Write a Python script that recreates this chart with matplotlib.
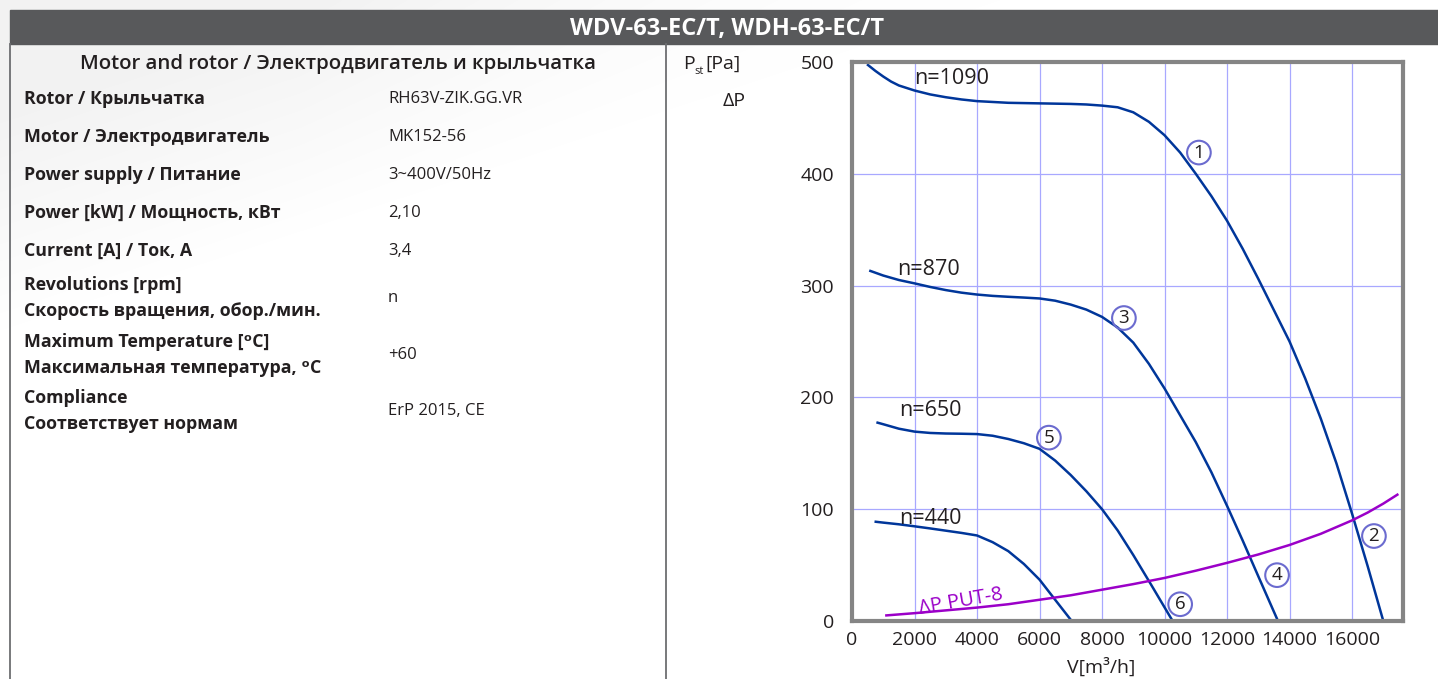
import matplotlib
matplotlib.use("Agg")
import matplotlib.pyplot as plt
from matplotlib.patches import Rectangle
from matplotlib.lines import Line2D
import numpy as np

plt.rcParams['font.family'] = ['Open Sans', 'DejaVu Sans']

W, H = 1438, 679

# ---------------- data ----------------
title = "WDV-63-EC/T, WDH-63-EC/T"
table_header = "Motor and rotor / Электродвигатель и крыльчатка"
row_labels = ["Rotor / Крыльчатка", "Motor / Электродвигатель", "Power supply / Питание",
              "Power [kW] / Мощность, кВт", "Current [A] / Ток, А",
              "Revolutions [rpm]\nСкорость вращения, обор./мин.",
              "Maximum Temperature [ᵒC]\nМаксимальная температура, ᵒC",
              "Compliance\nСоответствует нормам"]
row_values = ["RH63V-ZIK.GG.VR", "MK152-56", "3~400V/50Hz", "2,10", "3,4", "n", "+60", "ErP 2015, CE"]

x_n1090 = [480, 750, 1000, 1250, 1500, 2000, 2500, 3000, 3500, 4000, 5000, 6000, 7000, 7500,
           8000, 8500, 9000, 9500, 10000, 10500, 11000, 11500, 12000, 12500, 13000, 13500,
           14000, 14500, 15000, 15500, 16000, 16500, 17000]
y_n1090 = [498, 492, 487, 482.5, 479, 474.5, 471, 468.5, 466.5, 465, 463.5, 463, 462.5, 462,
           461, 459.5, 455, 446.5, 434.5, 419, 400, 380, 358, 333, 306, 278,
           250, 217, 181, 141, 96, 49, 0]

x_n870 = [550, 1000, 1500, 2000, 2500, 3000, 3500, 4000, 4500, 5000, 5500, 6000, 6500, 7000,
          7500, 8000, 8500, 9000, 9500, 10000, 10500, 11000, 11500, 12000, 12500, 13000, 13630]
y_n870 = [313.5, 309, 305, 302, 298.8, 296, 293.7, 292, 290.8, 290, 289.3, 288.5, 286.5, 283,
          278.5, 272, 262.5, 249, 230, 208, 184, 160, 133, 103, 72, 40, 0]

x_n650 = [780, 1000, 1500, 2000, 2500, 3000, 3500, 4000, 4500, 5000, 5500, 6000, 6500, 7000,
          7500, 8000, 8500, 9000, 9570, 10260]
y_n650 = [177.7, 176, 172, 169.4, 168.2, 167.7, 167.5, 167.2, 165.7, 162.8, 159, 154, 143.5, 130.5,
          116, 100, 81, 59, 32.5, 0]

x_n440 = [720, 1000, 1500, 2000, 2500, 3000, 3500, 4000, 4500, 5000, 5500, 6000, 6500, 7030]
y_n440 = [88.9, 88, 86.5, 84.7, 82.8, 80.8, 78.8, 76.5, 70.5, 62.5, 51, 37, 19, 0]

x_put8 = [1100, 2000, 3000, 4000, 5000, 6000, 7000, 8000, 9000, 10000, 11000, 12000, 13000,
          14000, 15000, 16000, 16500, 17000, 17450]
y_put8 = [5, 7, 9.5, 12, 15, 19, 23, 28, 33, 38.5, 45, 52, 59.5,
          68, 78, 90, 97, 105, 113]

speed_labels = ["n=1090", "n=870", "n=650", "n=440"]
speed_label_xy = [(2000, 485), (1450, 314), (1500, 188), (1500, 92)]

circle_nums = ["1", "2", "3", "4", "5", "6"]
circle_xy = [(11100, 419), (16700, 76), (8700, 271), (13600, 41), (6300, 164), (10500, 15)]

x_ticks = [0, 2000, 4000, 6000, 8000, 10000, 12000, 14000, 16000]
y_ticks = [0, 100, 200, 300, 400, 500]

# ---------------- figure ----------------
fig = plt.figure(figsize=(W / 100, H / 100), dpi=100)
fig.patch.set_facecolor('white')


def P(x, y):
    return (x / W, 1 - y / H)


# faint background swoosh
bg = fig.add_axes([0, 0, 1, 1], zorder=-10)
bg.set_axis_off()
yy, xx = np.mgrid[0:H, 0:W]
line_y = 330 - 0.33 * xx
d = (line_y - yy)
shade = np.clip(d / 220.0, 0, 1) * np.clip(1 - (xx - 300) / 900.0, 0, 1)
img = 1 - 0.05 * shade
bg.imshow(np.dstack([img, img, img]), extent=[0, W, H, 0], aspect='auto')
bg.set_xlim(0, W)
bg.set_ylim(H, 0)

# title bar
fig.patches.append(Rectangle(P(10, 44), 1428 / W, 34 / H, transform=fig.transFigure,
                             color='#58595B', zorder=1))
fig.text(*P(727, 29), title, color='white', fontsize=17, fontweight='bold',
         ha='center', va='center', zorder=2)

# frame lines
for xv in (10, 666):
    fig.lines.append(Line2D([xv / W, xv / W], [0, 1 - 44 / H], transform=fig.transFigure,
                            color='#6D6E71', lw=1.3))

# table
txt = '#231F20'
fig.text(*P(338, 64), table_header, fontsize=14.7, fontweight='semibold', ha='center', va='center',
         color=txt)
row_y = [99, 137, 175, 213, 251, 298, 355, 411]
for lab, val, ry in zip(row_labels, row_values, row_y):
    fig.text(*P(24, ry), lab, fontsize=12.8, fontweight='bold', ha='left', va='center',
             color=txt, linespacing=1.55)
    fig.text(*P(388, ry), val, fontsize=12, ha='left', va='center', color=txt)

# axis labels outside
fig.text(*P(683, 64), "P", fontsize=14, ha='left', va='center', color=txt)
fig.text(*P(694, 72), "st", fontsize=8, ha='left', va='center', color=txt)
fig.text(*P(705, 64), "[Pa]", fontsize=14, ha='left', va='center', color=txt)
fig.text(*P(723, 101), "ΔP", fontsize=14, ha='left', va='center', color=txt)
fig.text(*P(1101, 667), "V[m³/h]", fontsize=14, ha='center', va='center', color=txt)

# chart
ax = fig.add_axes([852 / W, 1 - 621 / H, 551 / W, (621 - 62) / H])
ax.set_facecolor('none')
ax.set_xlim(0, 17630)
ax.set_ylim(0, 500)
ax.set_xticks(x_ticks)
ax.set_yticks(y_ticks)
ax.set_xticklabels([str(v) for v in x_ticks])
ax.set_yticklabels([str(v) for v in y_ticks])
ax.tick_params(length=0, labelsize=14, colors=txt)
ax.tick_params(axis='y', pad=13)
ax.tick_params(axis='x', pad=7)
ax.grid(True, color='#A8A8FF', lw=0.9)
ax.set_axisbelow(True)
for s in ax.spines.values():
    s.set_color('#858585')
    s.set_linewidth(3)

blue = '#00369A'
for xs, ys in [(x_n1090, y_n1090), (x_n870, y_n870), (x_n650, y_n650), (x_n440, y_n440)]:
    ax.plot(xs, ys, color=blue, lw=1.8, solid_capstyle='butt', solid_joinstyle='round')
ax.plot(x_put8, y_put8, color='#9B00C8', lw=1.8, solid_joinstyle='round')

for lab, (lx, ly) in zip(speed_labels, speed_label_xy):
    ax.text(lx, ly, lab, fontsize=15.5, ha='left', va='center', color=txt)

for num, (cx, cy) in zip(circle_nums, circle_xy):
    ax.text(cx, cy, num, fontsize=13.5, ha='center', va='center', color=txt,
            bbox=dict(boxstyle='circle,pad=0.15', fc='none', ec='#6B6BCF', lw=1.5))

ax.text(2100, 17, "ΔP PUT-8", fontsize=14.5, color='#9B00C8', ha='left', va='center', rotation=10)

fig.savefig('out.png', dpi=100)
